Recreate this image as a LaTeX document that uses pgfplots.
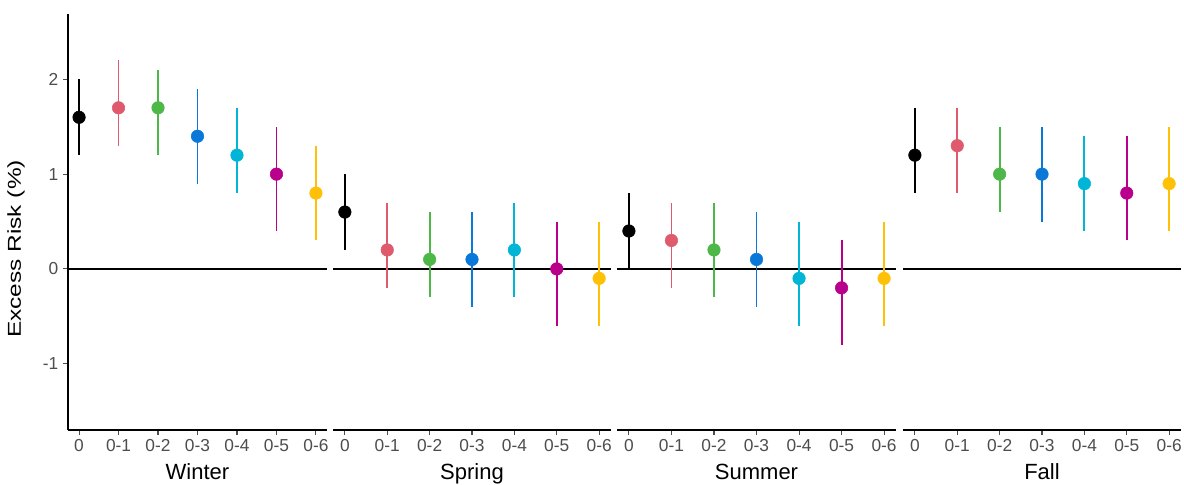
\documentclass[border=0pt]{standalone}
\usepackage{pgfplots}
\pgfplotsset{compat=1.18}
\usepackage{graphicx}
\usepackage{fontspec}
\setmainfont{Liberation Sans}
\definecolor{c0}{HTML}{000000}
\definecolor{c1}{HTML}{E05A6E}
\definecolor{c2}{HTML}{4DB848}
\definecolor{c3}{HTML}{0A78D8}
\definecolor{c4}{HTML}{00B5D5}
\definecolor{c5}{HTML}{B8008C}
\definecolor{c6}{HTML}{FFC107}
\definecolor{tickgray}{HTML}{4D4D4D}
\newcommand{\ebar}[5]{%
  \addplot[#1, line width=1.4pt, forget plot] coordinates {(#2,#4) (#2,#5)};
  \addplot[#1, only marks, mark=*, mark size=4.7pt, forget plot] coordinates {(#2,#3)};}
\newcommand{\zeroline}{\addplot[black, line width=1.1pt, forget plot] coordinates {(-0.28,0) (6.28,0)};}
\pgfplotsset{panel/.style={scale only axis, height=312pt, ymin=-1.70, ymax=2.69,
  xmin=-0.28, xmax=6.28, axis x line*=bottom,
  xtick={0,1,2,3,4,5,6}, xticklabels={0,0-1,0-2,0-3,0-4,0-5,0-6},
  tick align=outside, major tick length=3.75pt,
  x axis line style={line width=1.1pt, -},
  tick style={line width=0.8pt, color=tickgray},
  ticklabel style={font=\fontsize{13}{15}\selectfont, text=tickgray},
  xlabel style={font=\fontsize{16.5}{19}\selectfont, yshift=-2pt},
  clip=false, anchor=south west},
  noy/.style={axis y line=none, ytick=\empty}}
\begin{document}
\begin{tikzpicture}
\useasboundingbox (0,0) rectangle (888pt,363.75pt);
% Winter
\begin{axis}[panel, width=194.25pt, at={(51pt,41.25pt)}, xlabel={Winter},
  axis y line*=left, ytick={-1,0,1,2}, yticklabels={-1,0,1,2},
  y axis line style={line width=1.1pt, -}]
\zeroline
\ebar{c0}{0}{1.6}{1.2}{2.0}
\ebar{c1}{1}{1.7}{1.3}{2.2}
\ebar{c2}{2}{1.7}{1.2}{2.1}
\ebar{c3}{3}{1.4}{0.9}{1.9}
\ebar{c4}{4}{1.2}{0.8}{1.7}
\ebar{c5}{5}{1.0}{0.4}{1.5}
\ebar{c6}{6}{0.8}{0.3}{1.3}
\end{axis}
\node[rotate=90, anchor=base] at (15.75pt,177pt)
  {\scalebox{1.31}[1]{\fontsize{14}{17}\selectfont Excess Risk (\%)}};
% Spring
\begin{axis}[panel, noy, width=208.5pt, at={(249.75pt,41.25pt)}, xlabel={Spring}]
\zeroline
\ebar{c0}{0}{0.6}{0.2}{1.0}
\ebar{c1}{1}{0.2}{-0.2}{0.7}
\ebar{c2}{2}{0.1}{-0.3}{0.6}
\ebar{c3}{3}{0.1}{-0.4}{0.6}
\ebar{c4}{4}{0.2}{-0.3}{0.7}
\ebar{c5}{5}{0.0}{-0.6}{0.5}
\ebar{c6}{6}{-0.1}{-0.6}{0.5}
\end{axis}
% Summer
\begin{axis}[panel, noy, width=209.25pt, at={(462.75pt,41.25pt)}, xlabel={Summer}]
\zeroline
\ebar{c0}{0}{0.4}{0.0}{0.8}
\ebar{c1}{1}{0.3}{-0.2}{0.7}
\ebar{c2}{2}{0.2}{-0.3}{0.7}
\ebar{c3}{3}{0.1}{-0.4}{0.6}
\ebar{c4}{4}{-0.1}{-0.6}{0.5}
\ebar{c5}{5}{-0.2}{-0.8}{0.3}
\ebar{c6}{6}{-0.1}{-0.6}{0.5}
\end{axis}
% Fall
\begin{axis}[panel, noy, width=208.5pt, at={(677.25pt,41.25pt)}, xlabel={Fall}]
\zeroline
\ebar{c0}{0}{1.2}{0.8}{1.7}
\ebar{c1}{1}{1.3}{0.8}{1.7}
\ebar{c2}{2}{1.0}{0.6}{1.5}
\ebar{c3}{3}{1.0}{0.5}{1.5}
\ebar{c4}{4}{0.9}{0.4}{1.4}
\ebar{c5}{5}{0.8}{0.3}{1.4}
\ebar{c6}{6}{0.9}{0.4}{1.5}
\end{axis}
\end{tikzpicture}
\end{document}
